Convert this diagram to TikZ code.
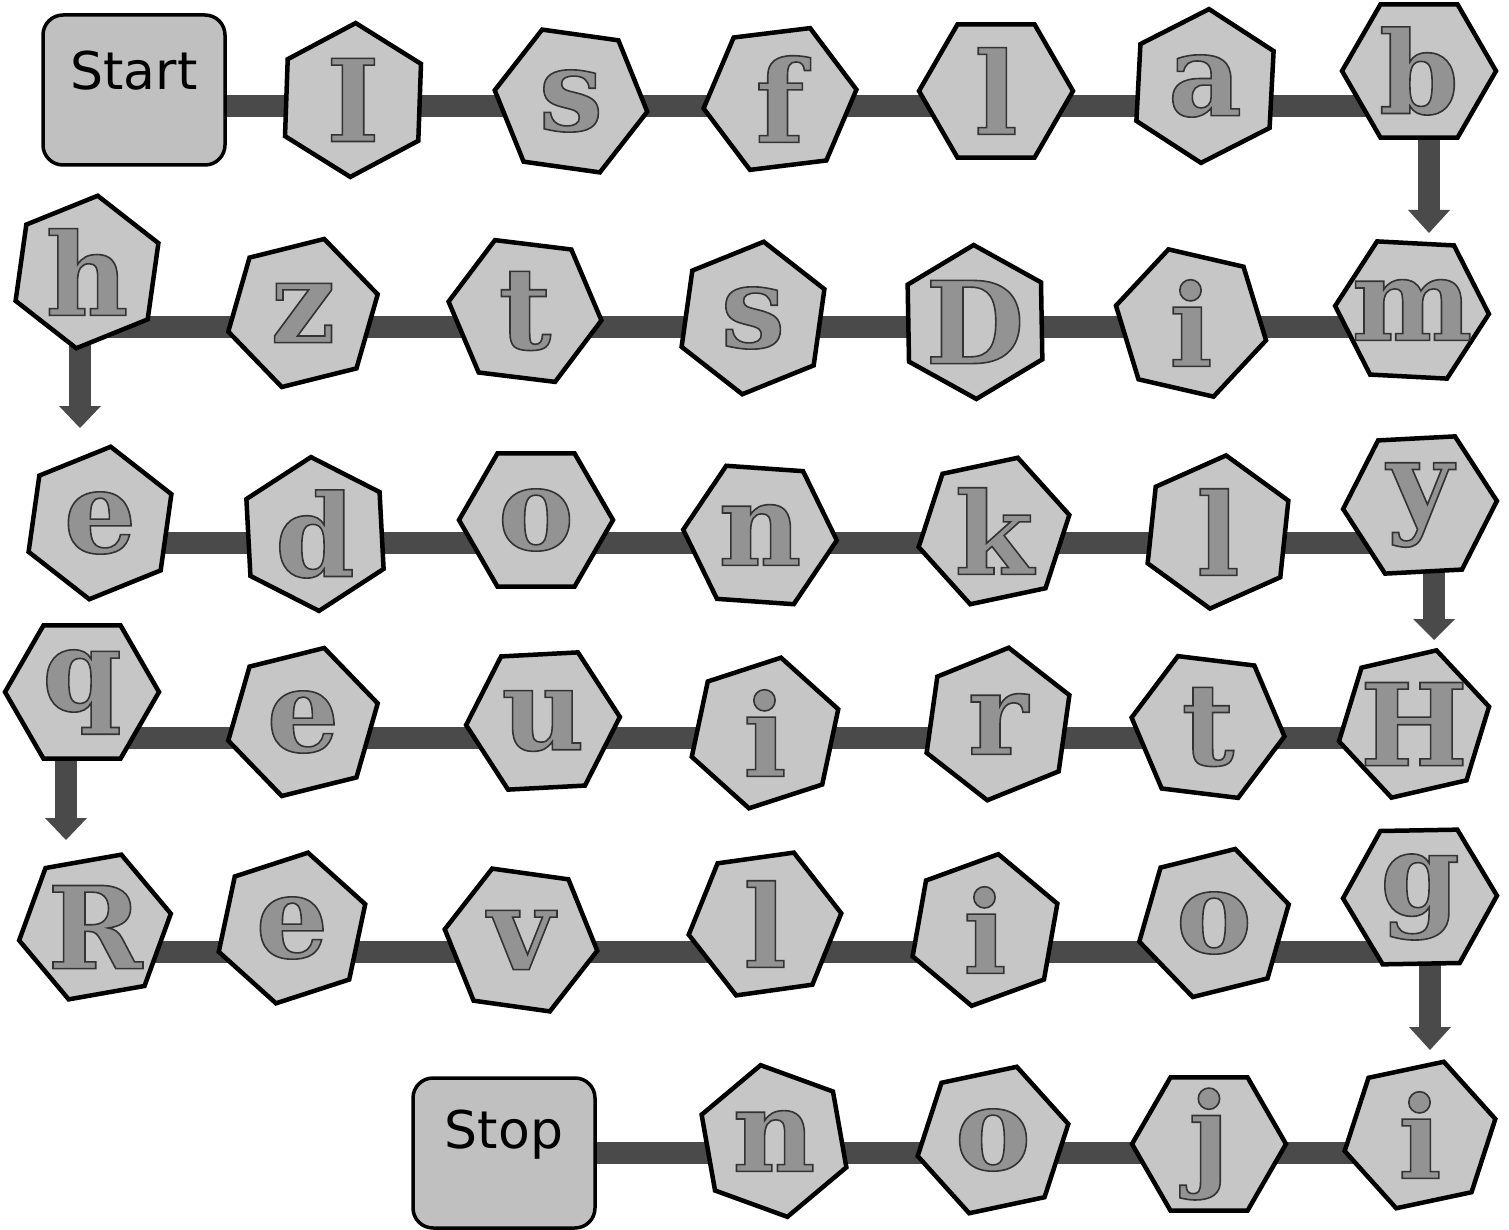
\documentclass[tikz,border=0pt]{standalone}
\usepackage{fontspec}
\setmainfont{DejaVu Sans}
\newfontfamily\letfont{DejaVu Serif}
\usetikzlibrary{shapes.geometric,backgrounds}
\definecolor{hexfill}{HTML}{C6C6C6}
\definecolor{boxfill}{HTML}{C0C0C0}
\definecolor{letgray}{HTML}{939393}
\definecolor{trackgray}{HTML}{4A4A4A}
\newcommand\lettr[1]{\special{pdf:literal direct 2 Tr 1.6 w 0.2 G}#1\special{pdf:literal direct 0 Tr}}
\tikzset{
  hexa/.style={regular polygon, regular polygon sides=6, draw=black, line width=4.5pt, fill=hexfill, minimum size=154pt, inner sep=-16pt, text=letgray, font=\letfont\bfseries\fontsize{114}{114}\selectfont},
  endbox/.style={rectangle, rounded corners=20pt, draw=black, line width=3.5pt, fill=boxfill, minimum width=182pt, minimum height=150pt},
  endlbl/.style={font=\fontsize{52}{52}\selectfont, text=black, inner sep=0pt},
  track/.style={draw=trackgray, line width=22pt},
  shaft/.style={draw=trackgray, line width=22pt},
  arrhead/.style={fill=trackgray},
}
\begin{document}
\begin{tikzpicture}[x=1pt,y=-1pt]
  \useasboundingbox (0,0) rectangle (1509,1230);
  \begin{scope}[on background layer]
    \fill[white] (0,0) rectangle (1509,1230);
  \end{scope}
  % row 1
  \node[endbox] (Start) at (134,90) {};
  \node[endlbl] (Starttxt) at ([yshift=19pt]Start.center) {Start};
  \node[hexa, shape border rotate=28] (hI) at (353,100) {\lettr{I}};
  \node[hexa, shape border rotate=-8] (hs1) at (571,101) {\lettr{s}};
  \node[hexa, shape border rotate=7] (hf) at (780,99) {\lettr{f}};
  \node[hexa, shape border rotate=0] (hl1) at (996,91) {\lettr{l}};
  \node[hexa, shape border rotate=27] (ha) at (1205,86) {\lettr{a}};
  \node[hexa, shape border rotate=0] (hb) at (1419,71) {\lettr{b}};
  % row 2
  \node[hexa, shape border rotate=22] (hh) at (87,272) {\lettr{h}};
  \node[hexa, shape border rotate=14] (hz) at (303,313) {\lettr{z}};
  \node[hexa, shape border rotate=-7] (ht2) at (525,311) {\lettr{t}};
  \node[hexa, shape border rotate=22] (hs2) at (753,318) {\lettr{s}};
  \node[hexa, shape border rotate=31] (hD) at (975,322) {\lettr{D}};
  \node[hexa, shape border rotate=-13] (hi2) at (1191,323) {\lettr{i}};
  \node[hexa, shape border rotate=-3] (hm) at (1412,310) {\lettr{m}};
  % row 3
  \node[hexa, shape border rotate=22] (he3) at (100,523) {\lettr{e}};
  \node[hexa, shape border rotate=33] (hd) at (315,534) {\lettr{d}};
  \node[hexa, shape border rotate=0] (ho3) at (536,520) {\lettr{o}};
  \node[hexa, shape border rotate=-4] (hn3) at (760,535) {\lettr{n}};
  \node[hexa, shape border rotate=12] (hk) at (994,531) {\lettr{k}};
  \node[hexa, shape border rotate=24] (hl3) at (1218,532) {\lettr{l}};
  \node[hexa, shape border rotate=3] (hy) at (1420,505) {\lettr{y}};
  % row 4
  \node[hexa, shape border rotate=0] (hq) at (82,692) {\lettr{q}};
  \node[hexa, shape border rotate=14] (he4) at (303,722) {\lettr{e}};
  \node[hexa, shape border rotate=3] (hu) at (543,721) {\lettr{u}};
  \node[hexa, shape border rotate=18] (hi4) at (765,733) {\lettr{i}};
  \node[hexa, shape border rotate=22] (hr) at (998,724) {\lettr{r}};
  \node[hexa, shape border rotate=-7] (ht4) at (1208,727) {\lettr{t}};
  \node[hexa, shape border rotate=13] (hH) at (1414,724) {\lettr{H}};
  % row 5
  \node[hexa, shape border rotate=10] (hR) at (95,927) {\lettr{R}};
  \node[hexa, shape border rotate=18] (he5) at (292,928) {\lettr{e}};
  \node[hexa, shape border rotate=-8] (hv) at (521,940) {\lettr{v}};
  \node[hexa, shape border rotate=8] (hl5) at (765,924) {\lettr{l}};
  \node[hexa, shape border rotate=20] (hi5) at (985,930) {\lettr{i}};
  \node[hexa, shape border rotate=14] (ho5) at (1214,923) {\lettr{o}};
  \node[hexa, shape border rotate=1] (hg) at (1420,897) {\lettr{g}};
  % row 6
  \node[endbox] (Stop) at (504,1153) {};
  \node[endlbl] (Stoptxt) at ([yshift=18pt]Stop.center) {Stop};
  \node[hexa, shape border rotate=40] (hn6) at (774,1141) {\lettr{n}};
  \node[hexa, shape border rotate=12] (ho6) at (993,1140) {\lettr{o}};
  \node[hexa, shape border rotate=0] (hj) at (1209,1144) {\lettr{j}};
  \node[hexa, shape border rotate=12] (hi6) at (1420,1135) {\lettr{i}};
  % track rows and turn arrows
  \coordinate (row1) at (0,106);
  \coordinate (row2) at (0,327);
  \coordinate (row3) at (0,543);
  \coordinate (row4) at (0,738);
  \coordinate (row5) at (0,952);
  \coordinate (row6) at (0,1153);
  \coordinate (tip1) at (1429,233);
  \coordinate (tip2) at (80,428);
  \coordinate (tip3) at (1434,640);
  \coordinate (tip4) at (66,840);
  \coordinate (tip5) at (1430,1050);
  \begin{scope}[on background layer]
    \draw[track] (Start |- row1) -- (hb |- row1);
    \draw[track] (hh |- row2) -- (hm |- row2);
    \draw[track] (he3 |- row3) -- (hy |- row3);
    \draw[track] (hq |- row4) -- (hH |- row4);
    \draw[track] (hR |- row5) -- (hg |- row5);
    \draw[track] (Stop |- row6) -- (hi6 |- row6);
    \draw[shaft] (hb.center -| tip1) -- ([yshift=21pt]tip1);
    \fill[arrhead] (tip1) -- ++(-21,-23) -- ++(42,0) -- cycle;
    \draw[shaft] (hh.center -| tip2) -- ([yshift=20pt]tip2);
    \fill[arrhead] (tip2) -- ++(-21,-22) -- ++(42,0) -- cycle;
    \draw[shaft] (hy.center -| tip3) -- ([yshift=19pt]tip3);
    \fill[arrhead] (tip3) -- ++(-21,-21) -- ++(42,0) -- cycle;
    \draw[shaft] (hq.center -| tip4) -- ([yshift=21pt]tip4);
    \fill[arrhead] (tip4) -- ++(-21,-22) -- ++(42,0) -- cycle;
    \draw[shaft] (hg.center -| tip5) -- ([yshift=22pt]tip5);
    \fill[arrhead] (tip5) -- ++(-21,-23) -- ++(42,0) -- cycle;
  \end{scope}
\end{tikzpicture}
\end{document}
